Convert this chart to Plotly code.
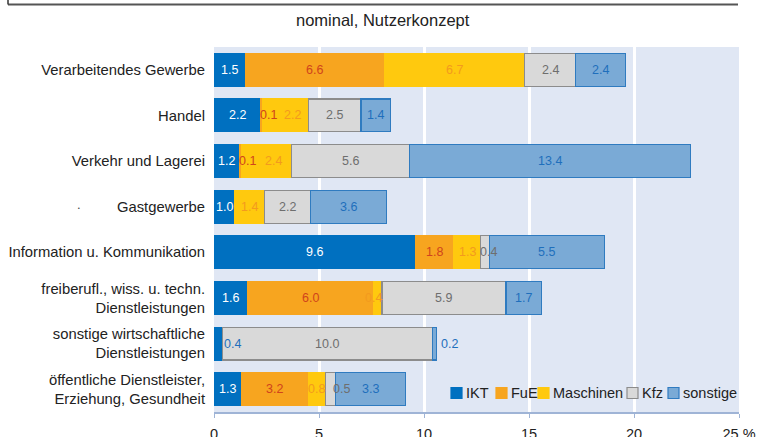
import plotly.graph_objects as go

categories = [
    "Verarbeitendes Gewerbe",
    "Handel",
    "Verkehr und Lagerei",
    "Gastgewerbe",
    "Information u. Kommunikation",
    "freiberufl., wiss. u. techn.<br>Dienstleistungen",
    "sonstige wirtschaftliche<br>Dienstleistungen",
    "öffentliche Dienstleister,<br>Erziehung, Gesundheit",
]
series_names = ["IKT", "FuE", "Maschinen", "Kfz", "sonstige"]
ikt = [1.5, 2.2, 1.2, 1.0, 9.6, 1.6, 0.4, 1.3]
fue = [6.6, 0.1, 0.1, 0.0, 1.8, 6.0, 0.0, 3.2]
maschinen = [6.7, 2.2, 2.4, 1.4, 1.3, 0.4, 0.0, 0.8]
kfz = [2.4, 2.5, 5.6, 2.2, 0.4, 5.9, 10.0, 0.5]
sonstige = [2.4, 1.4, 13.4, 3.6, 5.5, 1.7, 0.2, 3.3]
tick_vals = [0, 5, 10, 15, 20, 25]
tick_text = ["0", "5", "10", "15", "20", "25 %"]

values = [ikt, fue, maschinen, kfz, sonstige]

# styles
fill_colors = ["#0070C0", "#F7A51F", "#FFC90E", "#D9D9D9", "#7AAAD6"]
line_colors = ["#0070C0", "#F7A51F", "#FFC90E", "#8C8C8C", "#2F7BC0"]
label_colors = ["#FFFFFF", "#D0441C", "#F39A1E", "#6E6E6E", "#1F6FBC"]
# (row, series) -> pixel shift of the value label / colour override
label_shift = {(1, 1): 7, (1, 2): 7, (2, 1): 7, (2, 2): 7, (4, 3): 4,
               (5, 2): -4, (6, 0): 14, (6, 4): 15, (7, 3): 11}
label_color_override = {(6, 0): "#1F6FBC"}

FONT = "Liberation Sans, Arial, sans-serif"

fig = go.Figure()
for s, name in enumerate(series_names):
    fig.add_trace(go.Bar(
        y=categories, x=values[s], name=name, orientation="h",
        marker=dict(color=fill_colors[s], line=dict(color=line_colors[s], width=1.2)),
        width=0.72, showlegend=False, hoverinfo="x+name",
    ))

annotations = []
for r, cat in enumerate(categories):
    cum = 0.0
    for s in range(len(series_names)):
        v = values[s][r]
        if v > 0:
            annotations.append(dict(
                x=cum + v / 2, y=cat, xref="x", yref="y", text=f"{v:.1f}",
                showarrow=False, xshift=label_shift.get((r, s), 0),
                font=dict(family=FONT, size=12.5,
                          color=label_color_override.get((r, s), label_colors[s])),
            ))
        cum += v

px = lambda p: (p - 214) / 525
py = lambda p: (412 - p) / 365

# title
annotations.append(dict(x=px(383), y=py(20), xref="paper", yref="paper",
                        xanchor="center", yanchor="middle",
                        text="nominal, Nutzerkonzept", showarrow=False,
                        font=dict(family=FONT, size=16.5, color="#222222")))
# stray dot left of Gastgewerbe
annotations.append(dict(x=px(75), y=categories[3], xref="paper", yref="y",
                        text=".", showarrow=False, yshift=2,
                        font=dict(family=FONT, size=13, color="#444444")))

shapes = []
# top frame
shapes.append(dict(type="line", xref="paper", yref="paper", x0=px(8), x1=px(738),
                   y0=py(4.5), y1=py(4.5), line=dict(color="#555555", width=2.2)))
shapes.append(dict(type="line", xref="paper", yref="paper", x0=px(8), x1=px(8),
                   y0=py(-2), y1=py(4.5), line=dict(color="#333333", width=1.5)))

# legend (manual, compact like the original)
leg_swatch_x = [451, 496, 538, 627, 668]
leg_text_x = [464, 509, 551, 640, 681]
leg_y = 393
for s, name in enumerate(series_names):
    shapes.append(dict(type="rect", xref="paper", yref="paper",
                       x0=px(leg_swatch_x[s]), x1=px(leg_swatch_x[s] + 11),
                       y0=py(leg_y + 5.5), y1=py(leg_y - 5.5),
                       fillcolor=fill_colors[s], line=dict(color=line_colors[s], width=1.2)))
    annotations.append(dict(x=px(leg_text_x[s]), y=py(leg_y), xref="paper", yref="paper",
                            xanchor="left", yanchor="middle", text=name, showarrow=False,
                            font=dict(family=FONT, size=14.5, color="#222222")))

fig.update_layout(
    barmode="stack",
    width=773, height=437,
    margin=dict(l=214, r=34, t=47, b=25, autoexpand=False),
    paper_bgcolor="white",
    plot_bgcolor="#E0E7F4",
    annotations=annotations,
    shapes=shapes,
    font=dict(family=FONT, color="#222222"),
    xaxis=dict(range=[0, 25], tickvals=tick_vals, ticktext=tick_text,
               showgrid=True, gridcolor="white", gridwidth=3,
               showline=True, linecolor="#9FB4D6", linewidth=1.5,
               ticks="outside", ticklen=4, tickcolor="#9FB4D6",
               tickfont=dict(family=FONT, size=14.5, color="#222222"),
               ticklabelstandoff=4, zeroline=False, fixedrange=True, automargin=False),
    yaxis=dict(autorange="reversed", showgrid=False, showline=False, ticks="",
               tickfont=dict(family=FONT, size=14.8, color="#222222"),
               ticklabelstandoff=8, fixedrange=True, automargin=False),
)

fig.write_html("out.html", config={"displayModeBar": False},
               post_script="document.body.style.margin='0';document.body.style.overflow='hidden';")
